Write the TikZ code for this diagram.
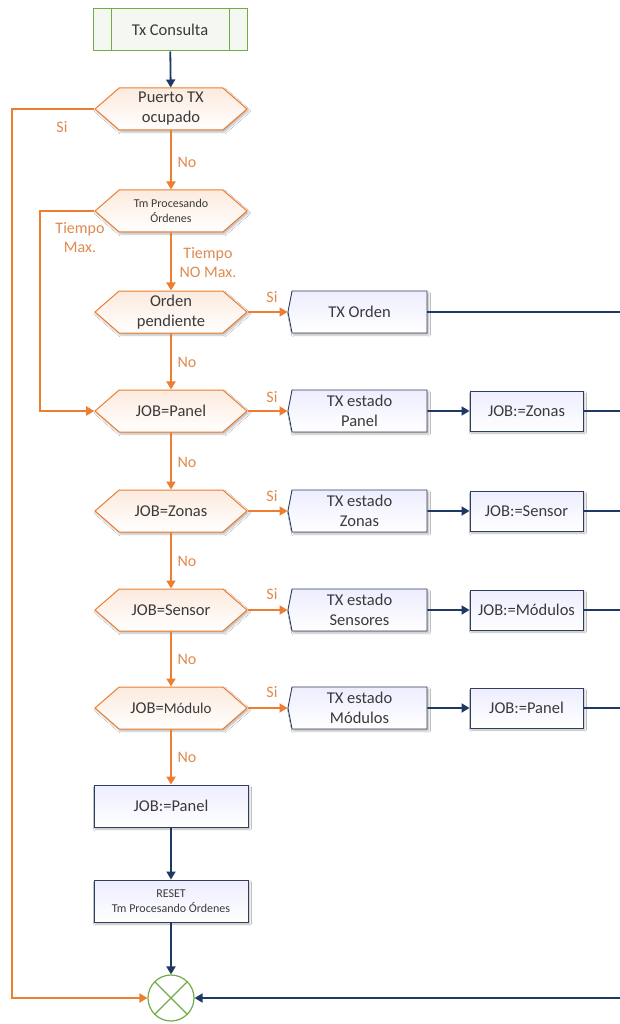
\documentclass[tikz,border=0pt]{standalone}
\usepackage{fontspec}
\setmainfont{Carlito}
\usetikzlibrary{shapes.symbols,shadows.blur,arrows.meta}

\definecolor{orng}{HTML}{ED7D31}
\definecolor{orngtxt}{HTML}{E08A50}
\definecolor{navy}{HTML}{203864}
\definecolor{boxline}{HTML}{2F3E5E}
\definecolor{grn}{HTML}{70AD47}
\definecolor{txtgray}{HTML}{3A3A3A}

\tikzset{
  x=1pt, y=-1pt,
  bigtxt/.style={font=\fontsize{16.5}{20}\selectfont},
  smalltxt/.style={font=\fontsize{12}{15}\selectfont},
  softshadow/.style={blur shadow={shadow blur steps=6, shadow xshift=1.5pt,
      shadow yshift=-2pt, shadow opacity=28}},
  decision/.style={signal, signal to=west and east, signal pointer angle=82,
      draw=orng, line width=1pt, top color=orng!16, bottom color=white,
      minimum width=152pt, minimum height=42pt, inner sep=1pt,
      text=txtgray, align=center, softshadow, bigtxt},
  sendbox/.style={signal, signal to=west, signal pointer angle=158,
      draw=boxline, line width=0.9pt, top color=blue!7, bottom color=white,
      minimum width=139pt, minimum height=42pt, inner sep=1pt,
      text=txtgray, align=center, softshadow, bigtxt},
  setbox/.style={rectangle, draw=boxline, line width=0.9pt,
      top color=blue!7, bottom color=white, minimum width=113pt,
      minimum height=40pt, inner sep=1pt, text=txtgray, align=center,
      softshadow, bigtxt},
  wideset/.style={setbox, minimum width=154pt, minimum height=42pt},
  startbox/.style={rectangle, draw=grn, line width=1pt, fill=grn!8,
      minimum width=154pt, minimum height=42pt, text=txtgray, bigtxt},
  joinpt/.style={circle, draw=grn, line width=1.2pt, fill=white,
      minimum size=46pt, inner sep=0pt},
  oflow/.style={draw=orng, line width=1.8pt, -{Triangle[length=8pt,width=9pt]}},
  oline/.style={draw=orng, line width=1.8pt},
  nflow/.style={draw=navy, line width=1.8pt, -{Triangle[length=8pt,width=9pt]}},
  nline/.style={draw=navy, line width=1.8pt},
  lbl/.style={text=orngtxt, font=\fontsize{16}{19}\selectfont, align=center,
      inner sep=0pt}
}

\begin{document}
\begin{tikzpicture}
\fill[white] (0,0) rectangle (619,1024);
\useasboundingbox (0,0) rectangle (619,1024);

% start block
\node[startbox] (start) at (170,30) {Tx Consulta};
\draw[grn, line width=1pt] ([xshift=19pt]start.north west) -- ([xshift=19pt]start.south west);
\draw[grn, line width=1pt] ([xshift=-18pt]start.north east) -- ([xshift=-18pt]start.south east);

% decisions
\node[decision] (pto) at (171,109) {Puerto TX\\ocupado};
\node[decision, smalltxt] (tm) at (171,211) {Tm Procesando\\Órdenes};
\node[decision] (ord) at (171,312) {Orden\\pendiente};
\node[decision] (dpanel) at (171,411) {JOB=Panel};
\node[decision] (dzonas) at (171,511) {JOB=Zonas};
\node[decision] (dsensor) at (171,610) {JOB=Sensor};
\node[decision] (dmod) at (171,708) {JOB={\fontsize{15}{18}\selectfont Módulo}};

% transmit boxes
\node[sendbox] (txo) at (359.5,312) {TX Orden};
\node[sendbox] (txp) at (359.5,411) {TX estado\\Panel};
\node[sendbox] (txz) at (359.5,511) {TX estado\\Zonas};
\node[sendbox] (txs) at (359.5,610) {TX estado\\Sensores};
\node[sendbox] (txm) at (359.5,708) {TX estado\\Módulos};

% job assignment boxes
\node[setbox] (jz) at (526.5,411) {JOB:=Zonas};
\node[setbox] (js) at (526.5,511) {JOB:=Sensor};
\node[setbox] (jm) at (526.5,610) {JOB:=Módulos};
\node[setbox] (jp) at (526.5,708) {JOB:=Panel};

% closing blocks
\node[wideset] (jpanel) at (171,806) {JOB:=Panel};
\node[wideset, smalltxt] (reset) at (171,901) {RESET\\Tm Procesando Órdenes};
\node[joinpt] (circ) at (171,998) {};
\draw[grn, line width=1.2pt] (circ.north west) -- (circ.south east);
\draw[grn, line width=1.2pt] (circ.north east) -- (circ.south west);

% rails
\coordinate (lrail) at (12,0);
\coordinate (mrail) at (40,0);
\coordinate (rrail) at (650,0);

% main column
\draw[nflow] (start) -- (pto);
\draw[oflow] (pto) -- (tm);
\draw[oflow] (tm) -- (ord);
\draw[oflow] (ord) -- (dpanel);
\draw[oflow] (dpanel) -- (dzonas);
\draw[oflow] (dzonas) -- (dsensor);
\draw[oflow] (dsensor) -- (dmod);
\draw[oflow] (dmod) -- (jpanel);
\draw[nflow] (jpanel) -- (reset);
\draw[nflow] (reset) -- (circ);

% side branches
\draw[oflow] (pto.west) -- (pto.west -| lrail) |- (circ.west);
\draw[oflow] (tm.west) -- (tm.west -| mrail) |- (dpanel.west);

% yes branches
\draw[oflow] (ord.east) -- (txo.west);
\draw[oflow] (dpanel.east) -- (txp.west);
\draw[oflow] (dzonas.east) -- (txz.west);
\draw[oflow] (dsensor.east) -- (txs.west);
\draw[oflow] (dmod.east) -- (txm.west);

\draw[nflow] (txp) -- (jz);
\draw[nflow] (txz) -- (js);
\draw[nflow] (txs) -- (jm);
\draw[nflow] (txm) -- (jp);

% return rail on the right
\draw[nline] (txo.east) -- (txo.east -| rrail);
\draw[nline] (jz.east) -- (jz.east -| rrail);
\draw[nline] (js.east) -- (js.east -| rrail);
\draw[nline] (jm.east) -- (jm.east -| rrail);
\draw[nline] (jp.east) -- (jp.east -| rrail);
\draw[nline] (txo.east -| rrail) -- (circ.east -| rrail);
\draw[nflow] (circ.east -| rrail) -- (circ.east);

% labels
\node[lbl] (lsi0) at (62,127) {Si};
\node[lbl] (lno0) at (187,162) {No};
\node[lbl] (ltmax) at (80,238) {Tiempo\\Max.};
\node[lbl] (ltnomax) at (208,263) {Tiempo\\NO Max.};
\node[lbl] (lsi1) at (272,297) {Si};
\node[lbl] (lno1) at (187,362) {No};
\node[lbl] (lsi2) at (272,397) {Si};
\node[lbl] (lno2) at (187,462) {No};
\node[lbl] (lsi3) at (272,496) {Si};
\node[lbl] (lno3) at (187,561) {No};
\node[lbl] (lsi4) at (272,594) {Si};
\node[lbl] (lno4) at (187,659) {No};
\node[lbl] (lsi5) at (272,692) {Si};
\node[lbl] (lno5) at (187,757) {No};
\end{tikzpicture}
\end{document}
